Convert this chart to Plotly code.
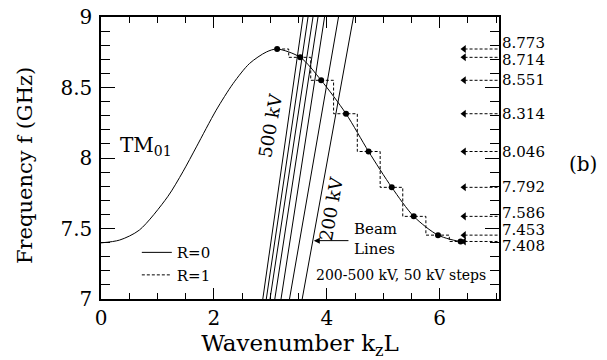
import plotly.graph_objects as go

# ---------------- data ----------------
# TM01 dispersion curve (R=0), solid
kz_curve = [0.0, 0.33, 0.68, 1.18, 1.45, 1.69, 2.04, 2.34, 2.63, 2.93, 3.12,
            3.53, 3.90, 4.34, 4.74, 5.15, 5.54, 5.97, 6.37, 6.47]
f_curve = [7.398, 7.418, 7.489, 7.725, 7.902, 8.079, 8.339, 8.528, 8.670, 8.752, 8.773,
           8.714, 8.551, 8.314, 8.046, 7.792, 7.586, 7.453, 7.408, 7.412]

# R=1 points (dots + dashed staircase)
kz_pts = [3.12, 3.53, 3.90, 4.34, 4.74, 5.15, 5.54, 5.97, 6.37]
f_pts = [8.773, 8.714, 8.551, 8.314, 8.046, 7.792, 7.586, 7.453, 7.408]
f_labels = ["8.773", "8.714", "8.551", "8.314", "8.046", "7.792", "7.586", "7.453", "7.408"]
label_shift = [6, -3, 0, 0, 0, 0, 3, 5, -5]

# Beam lines 500 kV ... 200 kV (kz at f=7 and at f=9)
beam_kv = [500, 450, 400, 350, 300, 250, 200]
beam_kz_bottom = [2.866, 2.928, 2.994, 3.079, 3.189, 3.339, 3.564]
beam_kz_top = [3.578, 3.667, 3.755, 3.844, 3.960, 4.207, 4.472]
beam_f_bottom = 7.0
beam_f_top = 9.0

x_ticks = [0, 2, 4, 6]
y_ticks = [7, 7.5, 8, 8.5, 9]

X_MAX = 7.05
ARROW_TIP = 6.39

FONT = "DejaVu Serif"

fig = go.Figure()

# beam lines
bx, by = [], []
for b0, b1 in zip(beam_kz_bottom, beam_kz_top):
    bx += [b0, b1, None]
    by += [beam_f_bottom, beam_f_top, None]
fig.add_trace(go.Scatter(x=bx, y=by, mode="lines", line=dict(color="black", width=1),
                         showlegend=False, hoverinfo="skip"))

# main curve R=0
fig.add_trace(go.Scatter(x=kz_curve, y=f_curve, mode="lines", name="R=0",
                         line=dict(color="black", width=1, shape="spline", smoothing=0.8)))

# staircase R=1
fig.add_trace(go.Scatter(x=kz_pts, y=f_pts, mode="lines", name="R=1",
                         line=dict(color="black", width=1, dash="3px,2px", shape="hvh")))

# dots
fig.add_trace(go.Scatter(x=kz_pts, y=f_pts, mode="markers",
                         marker=dict(color="black", size=6), showlegend=False))

# right dashed arrows
ax_, ay_ = [], []
for f in f_pts:
    ax_ += [ARROW_TIP + 0.05, X_MAX, None]
    ay_ += [f, f, None]
fig.add_trace(go.Scatter(x=ax_, y=ay_, mode="lines",
                         line=dict(color="black", width=1, dash="3px,2px"),
                         showlegend=False, cliponaxis=False))
fig.add_trace(go.Scatter(x=[ARROW_TIP + 0.04] * len(f_pts), y=f_pts, mode="markers",
                         marker=dict(color="black", size=7, symbol="triangle-left"),
                         showlegend=False))

# right-hand value labels
for f, t, s in zip(f_pts, f_labels, label_shift):
    fig.add_annotation(x=1, xref="paper", y=f, yref="y", text=t, showarrow=False,
                       xanchor="left", yanchor="middle", xshift=1, yshift=s,
                       font=dict(family=FONT, size=15, color="black"))

# text annotations
fig.add_annotation(x=0.30, y=8.084, text="TM<sub>01</sub>", showarrow=False,
                   xanchor="left", yanchor="middle", font=dict(family=FONT, size=20, color="black"))
fig.add_annotation(x=3.00, y=8.23, text="500 kV", showarrow=False, textangle=-80,
                   font=dict(family=FONT, size=18, color="black"))
fig.add_annotation(x=4.08, y=7.64, text="200 kV", showarrow=False, textangle=-80,
                   font=dict(family=FONT, size=18, color="black"))
fig.add_annotation(x=4.45, y=7.425, text="Beam<br>Lines", showarrow=False, align="left",
                   xanchor="left", yanchor="middle", font=dict(family=FONT, size=15, color="black"))
fig.add_annotation(x=3.77, y=7.414, ax=4.41, ay=7.414, axref="x", ayref="y", text="",
                   showarrow=True, arrowhead=2, arrowsize=1.2, arrowwidth=1, arrowcolor="black")
fig.add_annotation(x=5.306, y=7.17, text="200-500 kV, 50 kV steps", showarrow=False,
                   font=dict(family=FONT, size=14, color="black"))
fig.add_annotation(x=1.251, y=0.479, xref="paper", yref="paper", text="(b)", showarrow=False,
                   font=dict(family=FONT, size=20, color="black"))
# y-axis title
fig.add_annotation(x=-0.191, y=0.475, xref="paper", yref="paper", text="Frequency f (GHz)",
                   showarrow=False, textangle=-90, xanchor="center", yanchor="middle",
                   font=dict(family=FONT, size=21, color="black"))

fig.update_xaxes(range=[0, X_MAX], tickvals=x_ticks, ticks="inside", ticklen=11, tickwidth=1,
                 tickcolor="black", showline=True, linecolor="black", linewidth=1.5,
                 mirror="allticks", showgrid=False, zeroline=False, automargin=False,
                 ticklabeloverflow="allow",
                 minor=dict(dtick=0.5, tick0=0, ticks="inside", ticklen=6, tickcolor="black", showgrid=False),
                 tickfont=dict(family=FONT, size=20, color="black"), ticklabelstandoff=0,
                 title=dict(text="Wavenumber k<sub>z</sub>L", font=dict(family=FONT, size=23, color="black"),
                            standoff=0))
fig.update_yaxes(range=[7, 9], tickvals=y_ticks, ticks="inside", ticklen=14, tickwidth=1,
                 tickcolor="black", showline=True, linecolor="black", linewidth=1.5,
                 mirror="allticks", showgrid=False, zeroline=False, automargin=False,
                 ticklabeloverflow="allow",
                 minor=dict(dtick=0.1, tick0=7, ticks="inside", ticklen=9, tickcolor="black", showgrid=False),
                 tickfont=dict(family=FONT, size=20, color="black"), ticklabelstandoff=3)

fig.update_layout(template="none", width=607, height=360, margin=dict(l=101, r=108, t=17, b=61),
                  paper_bgcolor="white", plot_bgcolor="white",
                  legend=dict(x=0.09, y=0.223, xanchor="left", yanchor="top",
                              bgcolor="rgba(0,0,0,0)", font=dict(family=FONT, size=15, color="black"),
                              tracegroupgap=0, itemwidth=30))

# remove the browser's default 8px page margin so the figure sits at the window's corner
fig.write_html("out.html", config={"displayModeBar": False},
               post_script="document.body.style.margin='0px';document.body.style.overflow='hidden';")
